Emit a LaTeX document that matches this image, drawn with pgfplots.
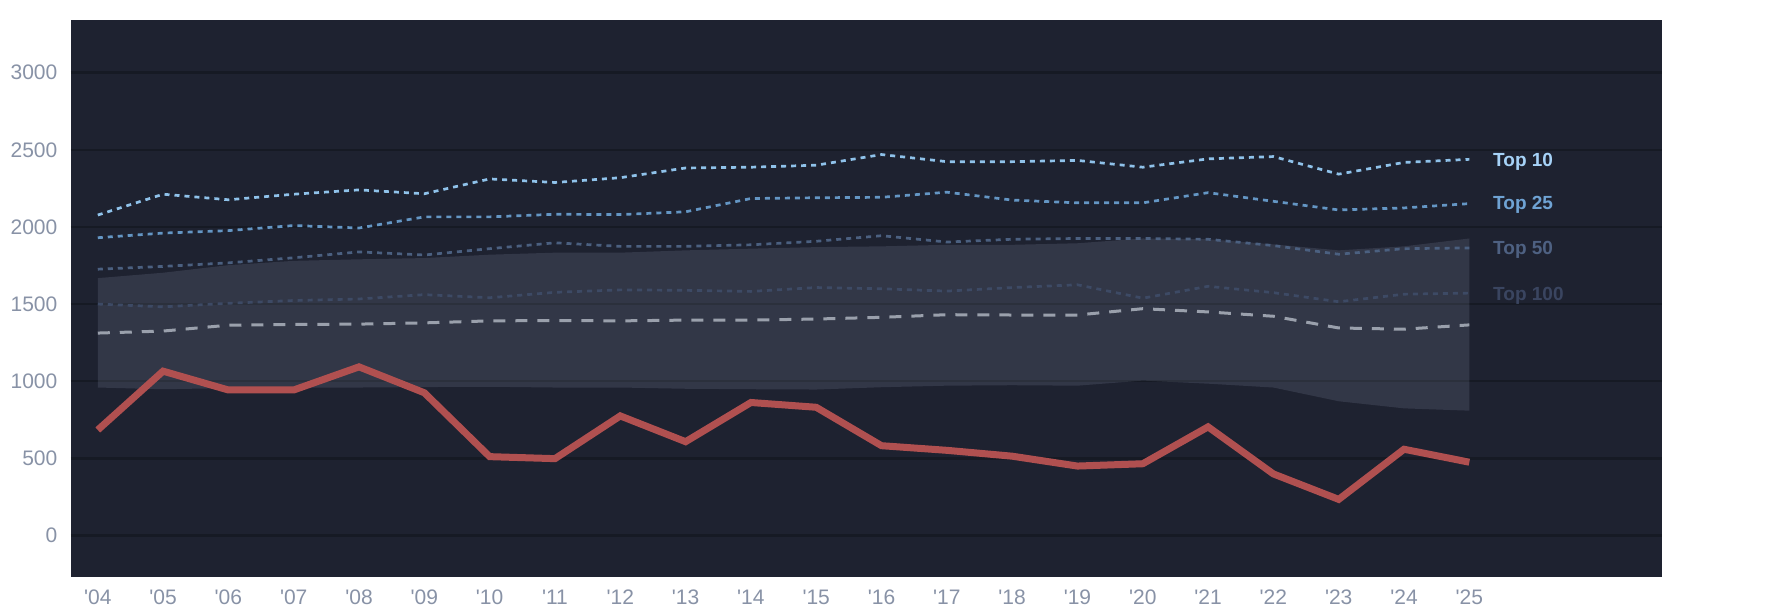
\documentclass[border=0pt]{standalone}
\usepackage{fontspec}
\setmainfont{Liberation Sans}
\usepackage{pgfplots}
\pgfplotsset{compat=1.18}
\usepgfplotslibrary{fillbetween}
\definecolor{bgc}{RGB}{30,34,48}
\definecolor{gridc}{RGB}{22,26,36}
\definecolor{areac}{RGB}{200,210,240}
\definecolor{tickc}{RGB}{136,146,166}
\definecolor{tten}{RGB}{143,194,234}
\definecolor{ttwf}{RGB}{100,150,196}
\definecolor{tfif}{RGB}{75,96,128}
\definecolor{thun}{RGB}{61,74,101}
\definecolor{ltten}{RGB}{166,210,247}
\definecolor{lttwf}{RGB}{111,163,212}
\definecolor{ltfif}{RGB}{78,97,130}
\definecolor{lthun}{RGB}{58,69,96}
\definecolor{medc}{RGB}{154,160,172}
\definecolor{redc}{RGB}{176,80,80}
\begin{document}
\begin{tikzpicture}
\begin{axis}[
  at={(0,0)}, anchor=south west,
  scale only axis, width=795.5pt, height=278.25pt,
  xmin=-0.41, xmax=23.95, ymin=-269, ymax=3338,
  axis background/.style={fill=bgc},
  axis line style={draw=none},
  major tick length=0pt,
  ymajorgrids, major grid style={color=gridc, line width=1.25pt},
  ytick={0,500,1000,1500,2000,2500,3000},
  xtick={0,...,21},
  xticklabels={\textquotesingle04,\textquotesingle05,\textquotesingle06,\textquotesingle07,\textquotesingle08,\textquotesingle09,\textquotesingle10,\textquotesingle11,\textquotesingle12,\textquotesingle13,\textquotesingle14,\textquotesingle15,\textquotesingle16,\textquotesingle17,\textquotesingle18,\textquotesingle19,\textquotesingle20,\textquotesingle21,\textquotesingle22,\textquotesingle23,\textquotesingle24,\textquotesingle25},
  ticklabel style={font=\fontsize{10.5}{12}\selectfont, text=tickc},
  /pgf/number format/assume math mode=true,
  /pgf/number format/1000 sep={},
  yticklabel style={xshift=-3.3pt},
  xticklabel style={yshift=-3pt},
  clip=false,
]
\addplot[name path=up, draw=none, forget plot] coordinates {
(0,1668)(1,1703)(2,1752)(3,1780)(4,1790)(5,1798)(6,1820)(7,1833)(8,1833)(9,1848)(10,1859)(11,1869)(12,1874)(13,1884)(14,1884)(15,1894)(16,1925)(17,1920)(18,1887)(19,1848)(20,1874)(21,1925)};
\addplot[name path=lo, draw=none, forget plot] coordinates {
(0,959)(1,948)(2,955)(3,958)(4,959)(5,962)(6,964)(7,959)(8,959)(9,951)(10,948)(11,946)(12,961)(13,971)(14,974)(15,971)(16,1004)(17,984)(18,959)(19,870)(20,824)(21,809)};
\addplot[fill=areac, fill opacity=0.12, draw=none] fill between[of=up and lo];
% median
\addplot[medc, line width=1.5pt, dash pattern=on 6pt off 5pt] coordinates {
(0,1312)(1,1325)(2,1363)(3,1368)(4,1370)(5,1378)(6,1391)(7,1393)(8,1391)(9,1396)(10,1396)(11,1403)(12,1414)(13,1431)(14,1429)(15,1429)(16,1470)(17,1449)(18,1421)(19,1345)(20,1337)(21,1365)};
% top 100
\addplot[thun, line width=1.35pt, dash pattern=on 2.5pt off 2.5pt] coordinates {
(0,1500)(1,1482)(2,1505)(3,1523)(4,1533)(5,1561)(6,1541)(7,1576)(8,1592)(9,1589)(10,1582)(11,1607)(12,1599)(13,1584)(14,1607)(15,1625)(16,1538)(17,1615)(18,1574)(19,1515)(20,1564)(21,1571)};
% top 50
\addplot[tfif, line width=1.35pt, dash pattern=on 2.5pt off 2.5pt] coordinates {
(0,1726)(1,1744)(2,1767)(3,1800)(4,1838)(5,1818)(6,1859)(7,1897)(8,1874)(9,1874)(10,1884)(11,1907)(12,1943)(13,1902)(14,1920)(15,1925)(16,1925)(17,1920)(18,1879)(19,1823)(20,1859)(21,1864)};
% top 25
\addplot[ttwf, line width=1.35pt, dash pattern=on 2.5pt off 2.5pt] coordinates {
(0,1930)(1,1960)(2,1976)(3,2009)(4,1993)(5,2065)(6,2065)(7,2082)(8,2080)(9,2098)(10,2184)(11,2189)(12,2192)(13,2225)(14,2174)(15,2156)(16,2156)(17,2222)(18,2166)(19,2110)(20,2123)(21,2151)};
% top 10
\addplot[tten, line width=1.35pt, dash pattern=on 2.5pt off 2.5pt] coordinates {
(0,2077)(1,2212)(2,2176)(3,2212)(4,2240)(5,2215)(6,2311)(7,2288)(8,2319)(9,2382)(10,2387)(11,2400)(12,2469)(13,2423)(14,2423)(15,2431)(16,2387)(17,2441)(18,2456)(19,2342)(20,2418)(21,2438)};
% red
\addplot[redc, line width=3.5pt, line join=miter] coordinates {
(0,684)(1,1065)(2,943)(3,943)(4,1093)(5,925)(6,511)(7,498)(8,775)(9,608)(10,862)(11,831)(12,582)(13,552)(14,514)(15,450)(16,465)(17,704)(18,399)(19,234)(20,559)(21,475)};
\node[anchor=west, inner sep=0pt, text=ltten, font=\bfseries\fontsize{9.5}{11}\selectfont] at (axis cs:21.36,2425) {Top 10};
\node[anchor=west, inner sep=0pt, text=lttwf, font=\bfseries\fontsize{9.5}{11}\selectfont] at (axis cs:21.36,2140) {Top 25};
\node[anchor=west, inner sep=0pt, text=ltfif, font=\bfseries\fontsize{9.5}{11}\selectfont] at (axis cs:21.36,1852) {Top 50};
\node[anchor=west, inner sep=0pt, text=lthun, font=\bfseries\fontsize{9.5}{11}\selectfont] at (axis cs:21.36,1554) {Top 100};
\end{axis}
\pgfresetboundingbox
\path[use as bounding box] (-35.5pt,-18.5pt) rectangle (857pt,288.5pt);
\end{tikzpicture}
\end{document}
